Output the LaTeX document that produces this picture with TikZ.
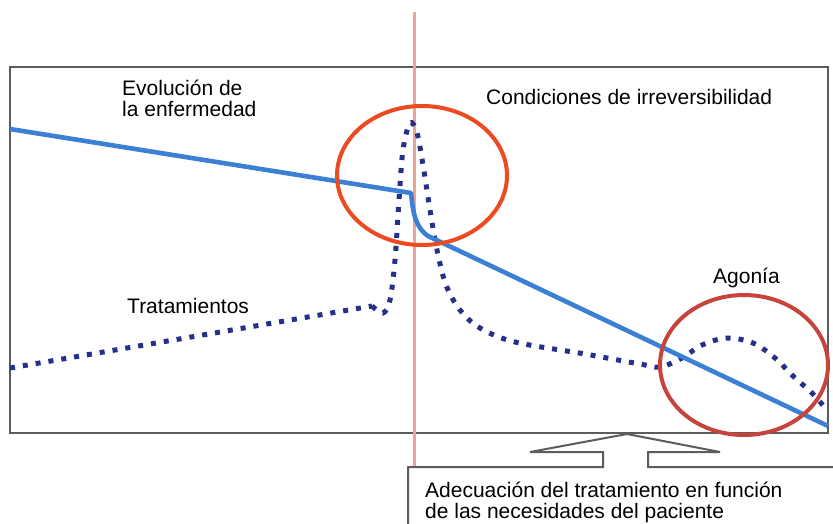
\documentclass[tikz,border=0pt]{standalone}
\usepackage{fontspec}
\setmainfont{Liberation Sans}
\usetikzlibrary{shapes.geometric}
\definecolor{framegray}{HTML}{5C5C5C}
\definecolor{salmon}{HTML}{EBA596}
\definecolor{evoblue}{HTML}{3B80D4}
\definecolor{navydot}{HTML}{25308C}
\definecolor{redA}{HTML}{EE4A22}
\definecolor{redB}{HTML}{C7443D}
\begin{document}
\begin{tikzpicture}[x=1pt,y=-1pt,
  framebox/.style={draw=framegray,line width=2.2pt},
  vline/.style={draw=salmon,line width=3pt},
  evoline/.style={draw=evoblue,line width=4.6pt,line join=round},
  treatline/.style={draw=navydot,line width=5pt,dash pattern=on 5pt off 8pt},
  ringA/.style={draw=redA,line width=4pt},
  ringB/.style={draw=redB,line width=4pt},
  callout/.style={draw=framegray,line width=2pt,line join=miter},
  lbl/.style={inner sep=0pt,anchor=base west,font=\fontsize{21}{22}\selectfont}]
\useasboundingbox (0,0) rectangle (833,523);
\fill[white] (0,0) rectangle (833,523);
\draw[framebox] (10,67) rectangle (828,433);
\coordinate (vtop) at (414,12);
\coordinate (vbot) at (414,467);
\draw[vline] (vtop) -- (vbot);
% treatment curve
\draw[treatline] (10,368) -- (372,306)
  plot[smooth,tension=0.55] coordinates {(372,306) (383,313) (390,300) (395,260) (399,200) (403,150) (410,123) (417,133) (423,165) (430,210) (437,250) (446,285) (460,310) (480,328) (515,342) (585,354) (640,364) (660,367) (682,358) (702,345) (727,338) (753,343) (775,358) (793,376) (812,393) (826,409)};
% disease evolution
\draw[evoline] (10,129) -- (411,193) .. controls (413,212) and (415,227) .. (428,236) -- (828,426);
% circles
\node[ringA,ellipse,minimum width=170pt,minimum height=139pt,inner sep=0pt] (irrev) at (422,175.5) {};
\node[ringB,ellipse,minimum width=168pt,minimum height=140pt,inner sep=0pt] (agony) at (744,365) {};
% labels
\node[lbl] (evo1) at (122,95) {Evolución de};
\node[lbl] (evo2) at (122,116) {la enfermedad};
\node[lbl] (cond) at (486,104) {Condiciones de irreversibilidad};
\node[lbl] (trat) at (127,313) {Tratamientos};
\node[lbl] (agon) at (713,283) {Agonía};
% callout
\draw[callout] (408,525) -- (408,467) -- (603,467) -- (603,452) -- (530,452) -- (627,434) -- (720,452) -- (648,452) -- (648,467) -- (835,467);
\node[lbl] (ade1) at (425,497) {Adecuación del tratamiento en función};
\node[lbl] (ade2) at (425,518) {de las necesidades del paciente};
\end{tikzpicture}
\end{document}
